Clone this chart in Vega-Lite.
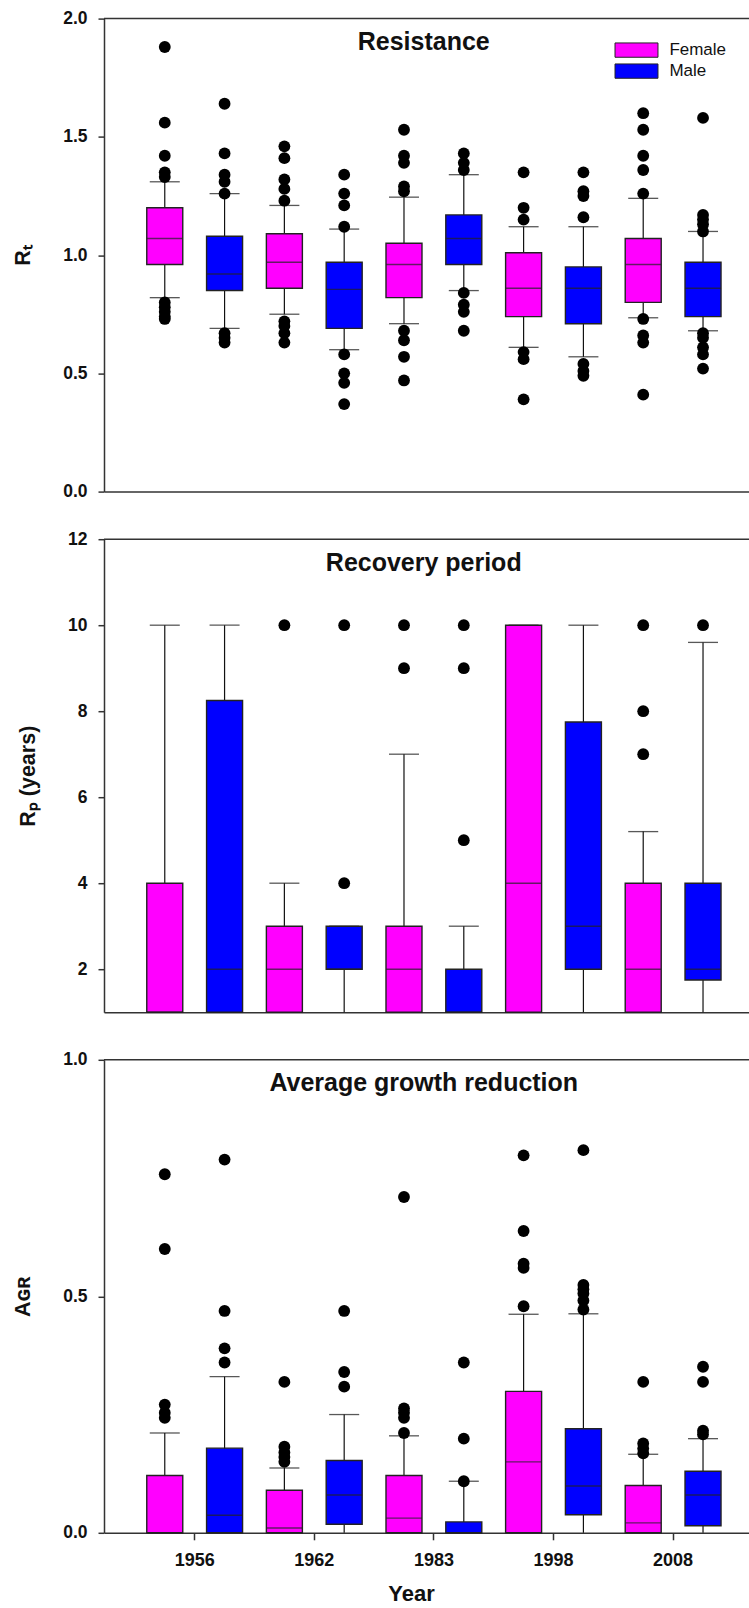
{
  "$schema": "https://vega.github.io/schema/vega-lite/v6.json",
  "padding": {"left": 12, "top": 9.6, "right": 0, "bottom": 0},
  "background": "white",
  "config": {
    "font": "Liberation Sans",
    "view": {"stroke": null},
    "axis": {
      "domainColor": "#333", "domainWidth": 1.5, "tickColor": "#333", "tickWidth": 1.5,
      "labelFont": "Liberation Sans", "labelFontWeight": "bold", "labelFontSize": 17.5, "labelColor": "#111",
      "titleFont": "Liberation Sans", "titleFontWeight": "bold", "titleFontSize": 21.5, "titleColor": "#111",
      "grid": false
    },
    "axisY": {"tickSize": 6, "labelPadding": 11, "titlePadding": 28},
    "title": {"font": "Liberation Sans", "fontSize": 25, "fontWeight": "bold", "color": "#111", "anchor": "middle", "frame": "group"}
  },
  "datasets": {
    "boxes": [
      {"panel": "R", "year": "1956", "sex": "Female", "lo": 0.82, "q1": 0.96, "med": 1.07, "q3": 1.20, "hi": 1.31},
      {"panel": "R", "year": "1956", "sex": "Male", "lo": 0.69, "q1": 0.85, "med": 0.92, "q3": 1.08, "hi": 1.26},
      {"panel": "R", "year": "1962", "sex": "Female", "lo": 0.75, "q1": 0.86, "med": 0.97, "q3": 1.09, "hi": 1.21},
      {"panel": "R", "year": "1962", "sex": "Male", "lo": 0.60, "q1": 0.69, "med": 0.855, "q3": 0.97, "hi": 1.11},
      {"panel": "R", "year": "1983", "sex": "Female", "lo": 0.71, "q1": 0.82, "med": 0.96, "q3": 1.05, "hi": 1.245},
      {"panel": "R", "year": "1983", "sex": "Male", "lo": 0.85, "q1": 0.96, "med": 1.07, "q3": 1.17, "hi": 1.34},
      {"panel": "R", "year": "1998", "sex": "Female", "lo": 0.61, "q1": 0.74, "med": 0.86, "q3": 1.01, "hi": 1.12},
      {"panel": "R", "year": "1998", "sex": "Male", "lo": 0.57, "q1": 0.71, "med": 0.86, "q3": 0.95, "hi": 1.12},
      {"panel": "R", "year": "2008", "sex": "Female", "lo": 0.735, "q1": 0.80, "med": 0.96, "q3": 1.07, "hi": 1.24},
      {"panel": "R", "year": "2008", "sex": "Male", "lo": 0.68, "q1": 0.74, "med": 0.86, "q3": 0.97, "hi": 1.10},
      {"panel": "P", "year": "1956", "sex": "Female", "lo": 1, "q1": 1, "med": 1, "q3": 4, "hi": 10},
      {"panel": "P", "year": "1956", "sex": "Male", "lo": 1, "q1": 1, "med": 2, "q3": 8.25, "hi": 10},
      {"panel": "P", "year": "1962", "sex": "Female", "lo": 1, "q1": 1, "med": 2, "q3": 3, "hi": 4},
      {"panel": "P", "year": "1962", "sex": "Male", "lo": 1, "q1": 2, "med": 2, "q3": 3, "hi": 3},
      {"panel": "P", "year": "1983", "sex": "Female", "lo": 1, "q1": 1, "med": 2, "q3": 3, "hi": 7},
      {"panel": "P", "year": "1983", "sex": "Male", "lo": 1, "q1": 1, "med": 1, "q3": 2, "hi": 3},
      {"panel": "P", "year": "1998", "sex": "Female", "lo": 1, "q1": 1, "med": 4, "q3": 10, "hi": 10},
      {"panel": "P", "year": "1998", "sex": "Male", "lo": 1, "q1": 2, "med": 3, "q3": 7.75, "hi": 10},
      {"panel": "P", "year": "2008", "sex": "Female", "lo": 1, "q1": 1, "med": 2, "q3": 4, "hi": 5.2},
      {"panel": "P", "year": "2008", "sex": "Male", "lo": 1, "q1": 1.75, "med": 2, "q3": 4, "hi": 9.6},
      {"panel": "A", "year": "1956", "sex": "Female", "lo": 0, "q1": 0, "med": 0, "q3": 0.121, "hi": 0.211},
      {"panel": "A", "year": "1956", "sex": "Male", "lo": 0, "q1": 0, "med": 0.037, "q3": 0.179, "hi": 0.330},
      {"panel": "A", "year": "1962", "sex": "Female", "lo": 0, "q1": 0, "med": 0.010, "q3": 0.090, "hi": 0.137},
      {"panel": "A", "year": "1962", "sex": "Male", "lo": 0, "q1": 0.018, "med": 0.080, "q3": 0.153, "hi": 0.250},
      {"panel": "A", "year": "1983", "sex": "Female", "lo": 0, "q1": 0, "med": 0.031, "q3": 0.121, "hi": 0.205},
      {"panel": "A", "year": "1983", "sex": "Male", "lo": 0, "q1": 0, "med": 0, "q3": 0.023, "hi": 0.109},
      {"panel": "A", "year": "1998", "sex": "Female", "lo": 0, "q1": 0, "med": 0.150, "q3": 0.299, "hi": 0.462},
      {"panel": "A", "year": "1998", "sex": "Male", "lo": 0, "q1": 0.038, "med": 0.099, "q3": 0.220, "hi": 0.463},
      {"panel": "A", "year": "2008", "sex": "Female", "lo": 0, "q1": 0, "med": 0.021, "q3": 0.100, "hi": 0.166},
      {"panel": "A", "year": "2008", "sex": "Male", "lo": 0, "q1": 0.015, "med": 0.080, "q3": 0.130, "hi": 0.199}
    ],
    "outliers": [
      {"panel": "R", "year": "1956", "sex": "Female", "v": 1.88}, {"panel": "R", "year": "1956", "sex": "Female", "v": 1.56}, {"panel": "R", "year": "1956", "sex": "Female", "v": 1.42}, {"panel": "R", "year": "1956", "sex": "Female", "v": 1.35}, {"panel": "R", "year": "1956", "sex": "Female", "v": 1.33}, {"panel": "R", "year": "1956", "sex": "Female", "v": 0.80}, {"panel": "R", "year": "1956", "sex": "Female", "v": 0.78}, {"panel": "R", "year": "1956", "sex": "Female", "v": 0.76}, {"panel": "R", "year": "1956", "sex": "Female", "v": 0.74}, {"panel": "R", "year": "1956", "sex": "Female", "v": 0.73},
      {"panel": "R", "year": "1956", "sex": "Male", "v": 1.64}, {"panel": "R", "year": "1956", "sex": "Male", "v": 1.43}, {"panel": "R", "year": "1956", "sex": "Male", "v": 1.34}, {"panel": "R", "year": "1956", "sex": "Male", "v": 1.31}, {"panel": "R", "year": "1956", "sex": "Male", "v": 1.26}, {"panel": "R", "year": "1956", "sex": "Male", "v": 0.67}, {"panel": "R", "year": "1956", "sex": "Male", "v": 0.65}, {"panel": "R", "year": "1956", "sex": "Male", "v": 0.63},
      {"panel": "R", "year": "1962", "sex": "Female", "v": 1.46}, {"panel": "R", "year": "1962", "sex": "Female", "v": 1.41}, {"panel": "R", "year": "1962", "sex": "Female", "v": 1.32}, {"panel": "R", "year": "1962", "sex": "Female", "v": 1.28}, {"panel": "R", "year": "1962", "sex": "Female", "v": 1.23}, {"panel": "R", "year": "1962", "sex": "Female", "v": 0.72}, {"panel": "R", "year": "1962", "sex": "Female", "v": 0.70}, {"panel": "R", "year": "1962", "sex": "Female", "v": 0.67}, {"panel": "R", "year": "1962", "sex": "Female", "v": 0.63},
      {"panel": "R", "year": "1962", "sex": "Male", "v": 1.34}, {"panel": "R", "year": "1962", "sex": "Male", "v": 1.26}, {"panel": "R", "year": "1962", "sex": "Male", "v": 1.21}, {"panel": "R", "year": "1962", "sex": "Male", "v": 1.12}, {"panel": "R", "year": "1962", "sex": "Male", "v": 0.58}, {"panel": "R", "year": "1962", "sex": "Male", "v": 0.50}, {"panel": "R", "year": "1962", "sex": "Male", "v": 0.46}, {"panel": "R", "year": "1962", "sex": "Male", "v": 0.37},
      {"panel": "R", "year": "1983", "sex": "Female", "v": 1.53}, {"panel": "R", "year": "1983", "sex": "Female", "v": 1.42}, {"panel": "R", "year": "1983", "sex": "Female", "v": 1.39}, {"panel": "R", "year": "1983", "sex": "Female", "v": 1.29}, {"panel": "R", "year": "1983", "sex": "Female", "v": 1.27}, {"panel": "R", "year": "1983", "sex": "Female", "v": 0.68}, {"panel": "R", "year": "1983", "sex": "Female", "v": 0.64}, {"panel": "R", "year": "1983", "sex": "Female", "v": 0.57}, {"panel": "R", "year": "1983", "sex": "Female", "v": 0.47},
      {"panel": "R", "year": "1983", "sex": "Male", "v": 1.43}, {"panel": "R", "year": "1983", "sex": "Male", "v": 1.39}, {"panel": "R", "year": "1983", "sex": "Male", "v": 1.36}, {"panel": "R", "year": "1983", "sex": "Male", "v": 0.84}, {"panel": "R", "year": "1983", "sex": "Male", "v": 0.79}, {"panel": "R", "year": "1983", "sex": "Male", "v": 0.76}, {"panel": "R", "year": "1983", "sex": "Male", "v": 0.68},
      {"panel": "R", "year": "1998", "sex": "Female", "v": 1.35}, {"panel": "R", "year": "1998", "sex": "Female", "v": 1.20}, {"panel": "R", "year": "1998", "sex": "Female", "v": 1.15}, {"panel": "R", "year": "1998", "sex": "Female", "v": 0.59}, {"panel": "R", "year": "1998", "sex": "Female", "v": 0.56}, {"panel": "R", "year": "1998", "sex": "Female", "v": 0.39},
      {"panel": "R", "year": "1998", "sex": "Male", "v": 1.35}, {"panel": "R", "year": "1998", "sex": "Male", "v": 1.27}, {"panel": "R", "year": "1998", "sex": "Male", "v": 1.25}, {"panel": "R", "year": "1998", "sex": "Male", "v": 1.16}, {"panel": "R", "year": "1998", "sex": "Male", "v": 0.54}, {"panel": "R", "year": "1998", "sex": "Male", "v": 0.51}, {"panel": "R", "year": "1998", "sex": "Male", "v": 0.49},
      {"panel": "R", "year": "2008", "sex": "Female", "v": 1.60}, {"panel": "R", "year": "2008", "sex": "Female", "v": 1.53}, {"panel": "R", "year": "2008", "sex": "Female", "v": 1.42}, {"panel": "R", "year": "2008", "sex": "Female", "v": 1.36}, {"panel": "R", "year": "2008", "sex": "Female", "v": 1.26}, {"panel": "R", "year": "2008", "sex": "Female", "v": 0.73}, {"panel": "R", "year": "2008", "sex": "Female", "v": 0.66}, {"panel": "R", "year": "2008", "sex": "Female", "v": 0.63}, {"panel": "R", "year": "2008", "sex": "Female", "v": 0.41},
      {"panel": "R", "year": "2008", "sex": "Male", "v": 1.58}, {"panel": "R", "year": "2008", "sex": "Male", "v": 1.17}, {"panel": "R", "year": "2008", "sex": "Male", "v": 1.15}, {"panel": "R", "year": "2008", "sex": "Male", "v": 1.13}, {"panel": "R", "year": "2008", "sex": "Male", "v": 1.10}, {"panel": "R", "year": "2008", "sex": "Male", "v": 0.67}, {"panel": "R", "year": "2008", "sex": "Male", "v": 0.65}, {"panel": "R", "year": "2008", "sex": "Male", "v": 0.61}, {"panel": "R", "year": "2008", "sex": "Male", "v": 0.58}, {"panel": "R", "year": "2008", "sex": "Male", "v": 0.52},
      {"panel": "P", "year": "1962", "sex": "Female", "v": 10},
      {"panel": "P", "year": "1962", "sex": "Male", "v": 10}, {"panel": "P", "year": "1962", "sex": "Male", "v": 4},
      {"panel": "P", "year": "1983", "sex": "Female", "v": 10}, {"panel": "P", "year": "1983", "sex": "Female", "v": 9},
      {"panel": "P", "year": "1983", "sex": "Male", "v": 10}, {"panel": "P", "year": "1983", "sex": "Male", "v": 9}, {"panel": "P", "year": "1983", "sex": "Male", "v": 5},
      {"panel": "P", "year": "2008", "sex": "Female", "v": 10}, {"panel": "P", "year": "2008", "sex": "Female", "v": 8}, {"panel": "P", "year": "2008", "sex": "Female", "v": 7},
      {"panel": "P", "year": "2008", "sex": "Male", "v": 10},
      {"panel": "A", "year": "1956", "sex": "Female", "v": 0.758}, {"panel": "A", "year": "1956", "sex": "Female", "v": 0.600}, {"panel": "A", "year": "1956", "sex": "Female", "v": 0.271}, {"panel": "A", "year": "1956", "sex": "Female", "v": 0.254}, {"panel": "A", "year": "1956", "sex": "Female", "v": 0.243},
      {"panel": "A", "year": "1956", "sex": "Male", "v": 0.789}, {"panel": "A", "year": "1956", "sex": "Male", "v": 0.469}, {"panel": "A", "year": "1956", "sex": "Male", "v": 0.390}, {"panel": "A", "year": "1956", "sex": "Male", "v": 0.360},
      {"panel": "A", "year": "1962", "sex": "Female", "v": 0.319}, {"panel": "A", "year": "1962", "sex": "Female", "v": 0.182}, {"panel": "A", "year": "1962", "sex": "Female", "v": 0.170}, {"panel": "A", "year": "1962", "sex": "Female", "v": 0.160}, {"panel": "A", "year": "1962", "sex": "Female", "v": 0.150},
      {"panel": "A", "year": "1962", "sex": "Male", "v": 0.469}, {"panel": "A", "year": "1962", "sex": "Male", "v": 0.340}, {"panel": "A", "year": "1962", "sex": "Male", "v": 0.309},
      {"panel": "A", "year": "1983", "sex": "Female", "v": 0.710}, {"panel": "A", "year": "1983", "sex": "Female", "v": 0.263}, {"panel": "A", "year": "1983", "sex": "Female", "v": 0.254}, {"panel": "A", "year": "1983", "sex": "Female", "v": 0.243}, {"panel": "A", "year": "1983", "sex": "Female", "v": 0.211},
      {"panel": "A", "year": "1983", "sex": "Male", "v": 0.360}, {"panel": "A", "year": "1983", "sex": "Male", "v": 0.199}, {"panel": "A", "year": "1983", "sex": "Male", "v": 0.109},
      {"panel": "A", "year": "1998", "sex": "Female", "v": 0.798}, {"panel": "A", "year": "1998", "sex": "Female", "v": 0.638}, {"panel": "A", "year": "1998", "sex": "Female", "v": 0.569}, {"panel": "A", "year": "1998", "sex": "Female", "v": 0.560}, {"panel": "A", "year": "1998", "sex": "Female", "v": 0.479},
      {"panel": "A", "year": "1998", "sex": "Male", "v": 0.809}, {"panel": "A", "year": "1998", "sex": "Male", "v": 0.524}, {"panel": "A", "year": "1998", "sex": "Male", "v": 0.515}, {"panel": "A", "year": "1998", "sex": "Male", "v": 0.506}, {"panel": "A", "year": "1998", "sex": "Male", "v": 0.491}, {"panel": "A", "year": "1998", "sex": "Male", "v": 0.472},
      {"panel": "A", "year": "2008", "sex": "Female", "v": 0.319}, {"panel": "A", "year": "2008", "sex": "Female", "v": 0.189}, {"panel": "A", "year": "2008", "sex": "Female", "v": 0.178}, {"panel": "A", "year": "2008", "sex": "Female", "v": 0.168},
      {"panel": "A", "year": "2008", "sex": "Male", "v": 0.351}, {"panel": "A", "year": "2008", "sex": "Male", "v": 0.319}, {"panel": "A", "year": "2008", "sex": "Male", "v": 0.216}, {"panel": "A", "year": "2008", "sex": "Male", "v": 0.208}
    ]
  },
  "spacing": 47.6,
  "bounds": "flush",
  "resolve": {"scale": {"color": "independent"}, "legend": {"color": "independent"}},
  "vconcat": [
    {
      "width": 649.5, "height": 473,
      "title": {"text": "Resistance", "offset": -65.5, "baseline": "alphabetic", "dx": -5},
      "layer": [
        {"data": {"name": "boxes"}, "transform": [{"filter": "datum.panel == 'R'"}],
         "mark": {"type": "rule", "color": "#111", "strokeWidth": 1.2},
         "encoding": {
           "x": {"field": "year", "type": "nominal", "scale": {"paddingInner": 0, "paddingOuter": 0.215, "align": 0.6}, "axis": {"labels": false, "ticks": false, "title": null}},
           "xOffset": {"field": "sex", "type": "nominal", "scale": {"domain": ["Female", "Male"], "paddingInner": 0, "paddingOuter": 0}},
           "y": {"field": "lo", "type": "quantitative", "scale": {"domain": [0, 2], "nice": false, "zero": false}, "axis": {"values": [0, 0.5, 1, 1.5, 2], "format": ".1f", "title": "Rₜ"}},
           "y2": {"field": "hi"}
         }},
        {"data": {"name": "boxes"}, "transform": [{"filter": "datum.panel == 'R'"}],
         "mark": {"type": "tick", "color": "#111", "size": 30, "thickness": 1.3},
         "encoding": {
           "x": {"field": "year", "type": "nominal"},
           "xOffset": {"field": "sex", "type": "nominal"},
           "y": {"field": "hi", "type": "quantitative"}
         }},
        {"data": {"name": "boxes"}, "transform": [{"filter": "datum.panel == 'R'"}],
         "mark": {"type": "tick", "color": "#111", "size": 30, "thickness": 1.3},
         "encoding": {
           "x": {"field": "year", "type": "nominal"},
           "xOffset": {"field": "sex", "type": "nominal"},
           "y": {"field": "lo", "type": "quantitative"}
         }},
        {"data": {"name": "boxes"}, "transform": [{"filter": "datum.panel == 'R'"}],
         "mark": {"type": "bar", "size": 36, "stroke": "#222", "strokeWidth": 1.4, "opacity": 1},
         "encoding": {
           "x": {"field": "year", "type": "nominal"},
           "xOffset": {"field": "sex", "type": "nominal"},
           "y": {"field": "q1", "type": "quantitative"},
           "y2": {"field": "q3"},
           "color": {"field": "sex", "type": "nominal", "scale": {"domain": ["Female", "Male"], "range": ["#FF00FF", "#0000FF"]},
             "legend": {"title": null, "orient": "none", "legendX": 524, "legendY": 23, "padding": 0, "symbolType": "M-3,-1H3V1H-3Z", "symbolSize": 205, "symbolStrokeColor": "#222", "symbolStrokeWidth": 1, "symbolOpacity": 1, "labelFont": "Liberation Sans", "labelFontSize": 17, "labelColor": "#111", "labelOffset": 24.4, "rowPadding": 2}}
         }},
        {"data": {"name": "boxes"}, "transform": [{"filter": "datum.panel == 'R'"}],
         "mark": {"type": "tick", "color": "#222", "size": 36, "thickness": 1.4},
         "encoding": {
           "x": {"field": "year", "type": "nominal"},
           "xOffset": {"field": "sex", "type": "nominal"},
           "y": {"field": "med", "type": "quantitative"}
         }},
        {"data": {"name": "outliers"}, "transform": [{"filter": "datum.panel == 'R'"}],
         "mark": {"type": "circle", "size": 140, "color": "#000", "opacity": 1},
         "encoding": {
           "x": {"field": "year", "type": "nominal"},
           "xOffset": {"field": "sex", "type": "nominal"},
           "y": {"field": "v", "type": "quantitative"}
         }},
        {"data": {"values": [{"frame": "top"}]},
         "mark": {"type": "rule", "color": "#333", "strokeWidth": 1.5},
         "encoding": {"y": {"datum": 2}}}
      ]
    },
    {
      "width": 649.5, "height": 473,
      "title": {"text": "Recovery period", "offset": -65.5, "baseline": "alphabetic", "dx": -5},
      "layer": [
        {"data": {"name": "boxes"}, "transform": [{"filter": "datum.panel == 'P'"}],
         "mark": {"type": "rule", "color": "#111", "strokeWidth": 1.2},
         "encoding": {
           "x": {"field": "year", "type": "nominal", "scale": {"paddingInner": 0, "paddingOuter": 0.215, "align": 0.6}, "axis": {"labels": false, "ticks": false, "title": null}},
           "xOffset": {"field": "sex", "type": "nominal", "scale": {"domain": ["Female", "Male"], "paddingInner": 0, "paddingOuter": 0}},
           "y": {"field": "lo", "type": "quantitative", "scale": {"domain": [1, 12], "nice": false, "zero": false}, "axis": {"values": [2, 4, 6, 8, 10, 12], "format": "d", "title": "Rₚ (years)"}},
           "y2": {"field": "hi"}
         }},
        {"data": {"name": "boxes"}, "transform": [{"filter": "datum.panel == 'P'"}],
         "mark": {"type": "tick", "color": "#111", "size": 30, "thickness": 1.3},
         "encoding": {
           "x": {"field": "year", "type": "nominal"},
           "xOffset": {"field": "sex", "type": "nominal"},
           "y": {"field": "hi", "type": "quantitative"}
         }},
        {"data": {"name": "boxes"}, "transform": [{"filter": "datum.panel == 'P'"}],
         "mark": {"type": "bar", "size": 36, "stroke": "#222", "strokeWidth": 1.4, "opacity": 1},
         "encoding": {
           "x": {"field": "year", "type": "nominal"},
           "xOffset": {"field": "sex", "type": "nominal"},
           "y": {"field": "q1", "type": "quantitative"},
           "y2": {"field": "q3"},
           "color": {"field": "sex", "type": "nominal", "scale": {"domain": ["Female", "Male"], "range": ["#FF00FF", "#0000FF"]}, "legend": null}
         }},
        {"data": {"name": "boxes"}, "transform": [{"filter": "datum.panel == 'P'"}],
         "mark": {"type": "tick", "color": "#222", "size": 36, "thickness": 1.4},
         "encoding": {
           "x": {"field": "year", "type": "nominal"},
           "xOffset": {"field": "sex", "type": "nominal"},
           "y": {"field": "med", "type": "quantitative"}
         }},
        {"data": {"name": "outliers"}, "transform": [{"filter": "datum.panel == 'P'"}],
         "mark": {"type": "circle", "size": 140, "color": "#000", "opacity": 1},
         "encoding": {
           "x": {"field": "year", "type": "nominal"},
           "xOffset": {"field": "sex", "type": "nominal"},
           "y": {"field": "v", "type": "quantitative"}
         }},
        {"data": {"values": [{"frame": "top"}]},
         "mark": {"type": "rule", "color": "#333", "strokeWidth": 1.5},
         "encoding": {"y": {"datum": 12}}}
      ]
    },
    {
      "width": 649.5, "height": 473,
      "title": {"text": "Average growth reduction", "offset": -65.5, "baseline": "alphabetic", "dx": -5},
      "layer": [
        {"data": {"name": "boxes"}, "transform": [{"filter": "datum.panel == 'A'"}],
         "mark": {"type": "rule", "color": "#111", "strokeWidth": 1.2},
         "encoding": {
           "x": {"field": "year", "type": "nominal", "scale": {"paddingInner": 0, "paddingOuter": 0.215, "align": 0.6}, "axis": {"title": "Year", "labelAngle": 0, "tickSize": 7, "labelPadding": 12, "labelFontSize": 18, "titleFontSize": 22, "titlePadding": 14, "titleX": 307}},
           "xOffset": {"field": "sex", "type": "nominal", "scale": {"domain": ["Female", "Male"], "paddingInner": 0, "paddingOuter": 0}},
           "y": {"field": "lo", "type": "quantitative", "scale": {"domain": [0, 1], "nice": false, "zero": false}, "axis": {"values": [0, 0.5, 1], "format": ".1f", "title": "Aɢʀ"}},
           "y2": {"field": "hi"}
         }},
        {"data": {"name": "boxes"}, "transform": [{"filter": "datum.panel == 'A'"}],
         "mark": {"type": "tick", "color": "#111", "size": 30, "thickness": 1.3},
         "encoding": {
           "x": {"field": "year", "type": "nominal"},
           "xOffset": {"field": "sex", "type": "nominal"},
           "y": {"field": "hi", "type": "quantitative"}
         }},
        {"data": {"name": "boxes"}, "transform": [{"filter": "datum.panel == 'A'"}],
         "mark": {"type": "bar", "size": 36, "stroke": "#222", "strokeWidth": 1.4, "opacity": 1},
         "encoding": {
           "x": {"field": "year", "type": "nominal"},
           "xOffset": {"field": "sex", "type": "nominal"},
           "y": {"field": "q1", "type": "quantitative"},
           "y2": {"field": "q3"},
           "color": {"field": "sex", "type": "nominal", "scale": {"domain": ["Female", "Male"], "range": ["#FF00FF", "#0000FF"]}, "legend": null}
         }},
        {"data": {"name": "boxes"}, "transform": [{"filter": "datum.panel == 'A'"}],
         "mark": {"type": "tick", "color": "#222", "size": 36, "thickness": 1.4},
         "encoding": {
           "x": {"field": "year", "type": "nominal"},
           "xOffset": {"field": "sex", "type": "nominal"},
           "y": {"field": "med", "type": "quantitative"}
         }},
        {"data": {"name": "outliers"}, "transform": [{"filter": "datum.panel == 'A'"}],
         "mark": {"type": "circle", "size": 140, "color": "#000", "opacity": 1},
         "encoding": {
           "x": {"field": "year", "type": "nominal"},
           "xOffset": {"field": "sex", "type": "nominal"},
           "y": {"field": "v", "type": "quantitative"}
         }},
        {"data": {"values": [{"frame": "top"}]},
         "mark": {"type": "rule", "color": "#333", "strokeWidth": 1.5},
         "encoding": {"y": {"datum": 1}}}
      ]
    }
  ]
}
